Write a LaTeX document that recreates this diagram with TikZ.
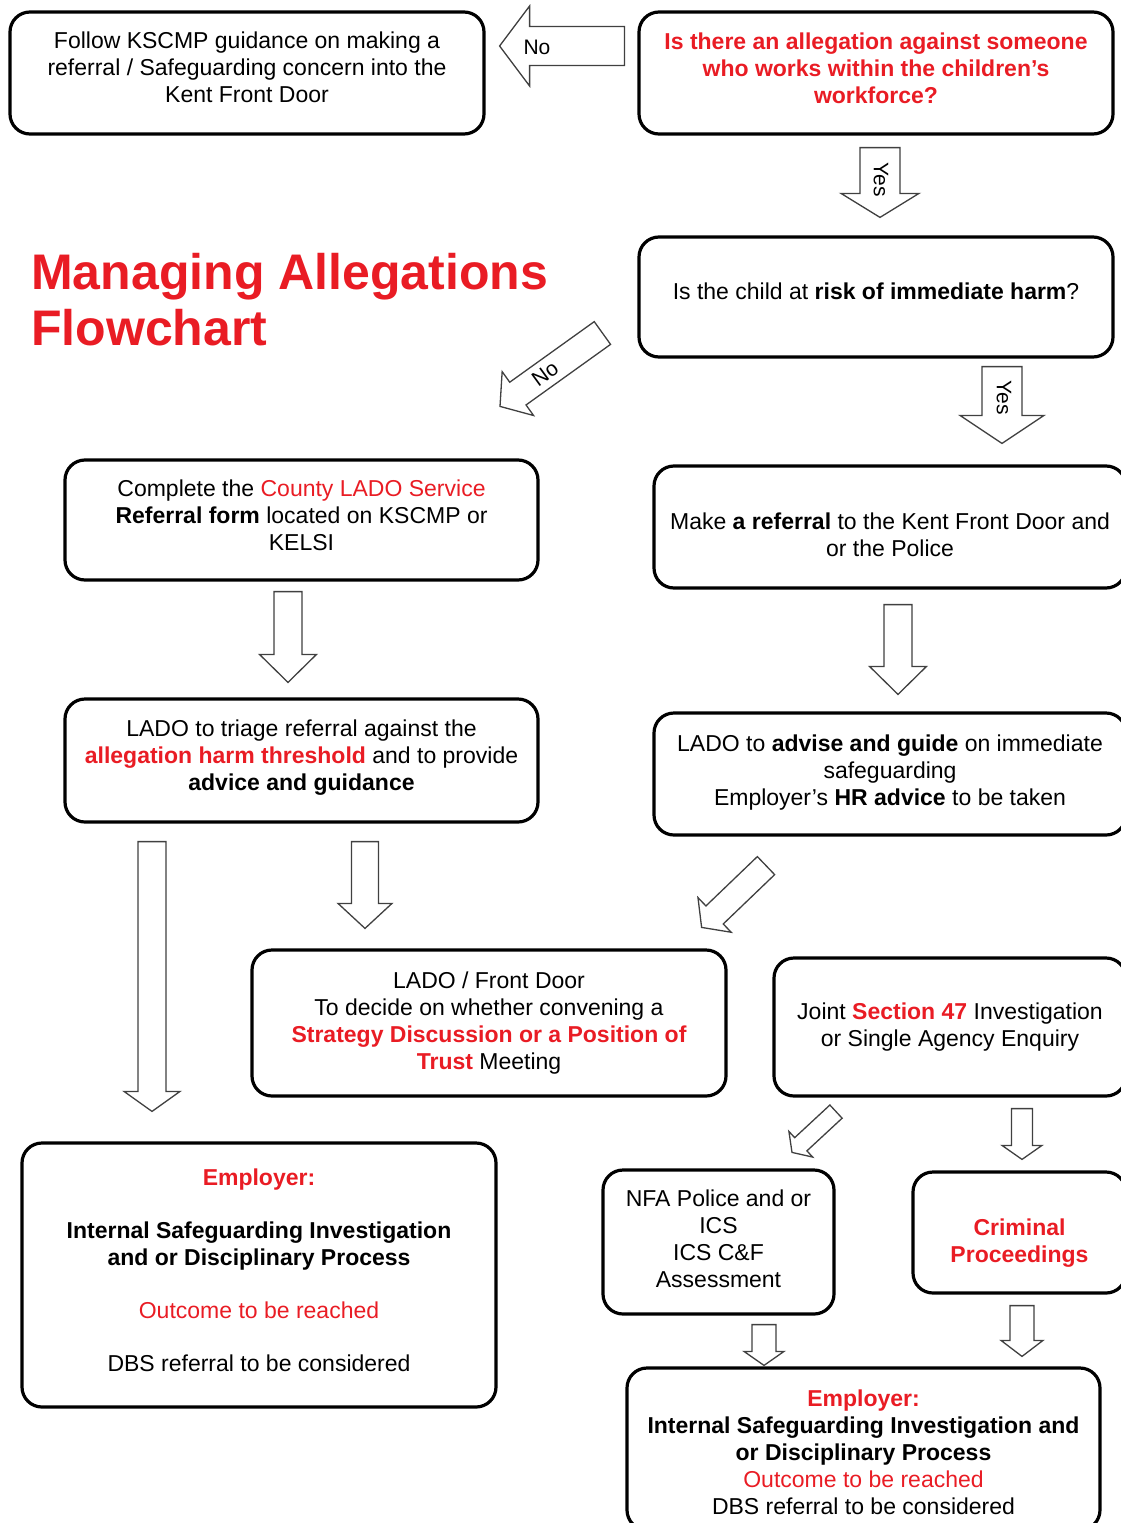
\documentclass[tikz,border=0pt]{standalone}
\usepackage{fontspec}
\setmainfont{Liberation Sans}
\usetikzlibrary{calc}
\definecolor{lred}{RGB}{233,28,36}

% 白抜き矢印: 始点, 終点, 軸の半幅, 頭の半幅, 頭の長さ
\newcommand\blockarrow[5]{%
  \coordinate (ba) at #1;
  \coordinate (bb) at #2;
  \coordinate (bh) at ($(bb)!#5!(ba)$);
  \draw[barrow] ($(ba)!#3!90:(bb)$) -- ($(bh)!#3!90:(bb)$) -- ($(bh)!#4!90:(bb)$) -- (bb)
    -- ($(bh)!#4!-90:(bb)$) -- ($(bh)!#3!-90:(bb)$) -- ($(ba)!#3!-90:(bb)$) -- cycle;
}

\begin{document}
\begin{tikzpicture}[x=1pt,y=-1pt,
    box/.style={draw,line width=3.2pt,rounded corners=20pt,align=center,inner sep=0pt,
      font=\fontsize{23}{27}\selectfont},
    barrow/.style={draw=black!75,line width=1.3pt,fill=white,line join=miter},
    lbl/.style={inner sep=0pt,font=\fontsize{21}{25}\selectfont}]
  \useasboundingbox (0,0) rectangle (1121,1523);

  % タイトル
  \node[anchor=north west,align=left,inner sep=0pt,text=lred,
    font=\fontsize{50}{56}\selectfont\bfseries] (title) at (31,253) {Managing Allegations\\Flowchart};

  % --- 箱 ---
  \node[box,minimum width=474,minimum height=122,text depth=12pt] (follow) at (247,73)
    {Follow KSCMP guidance on making a\\referral / Safeguarding concern into the\\Kent Front Door};
  \node[box,minimum width=474,minimum height=122,text depth=10pt,text=lred,font=\fontsize{23}{27}\selectfont\bfseries] (allege) at (876,73)
    {Is there an allegation against someone\\who works within the children's\\workforce?};
  \node[box,minimum width=474,minimum height=120,text depth=12pt] (risk) at (876,297)
    {Is the child at \textbf{risk of immediate harm}?};
  \node[box,minimum width=473,minimum height=120,text depth=10pt] (county) at (301.5,520)
    {Complete the \textcolor{lred}{County LADO Service}\\\textbf{Referral form} located on KSCMP or\\KELSI};
  \node[box,minimum width=472,minimum height=122,text height=59pt] (referral) at (890,527)
    {Make \textbf{a referral} to the Kent Front Door and\\or the Police};
  \node[box,minimum width=473,minimum height=123,text depth=10pt] (triage) at (301.5,760.5)
    {LADO to triage referral against the\\\textcolor{lred}{\textbf{allegation harm threshold}} and to provide\\\textbf{advice and guidance}};
  \node[box,minimum width=472,minimum height=122,text depth=8pt] (advise) at (890,774)
    {LADO to \textbf{advise and guide} on immediate\\safeguarding\\Employer's \textbf{HR advice} to be taken};
  \node[box,minimum width=474,minimum height=146] (lado) at (489,1023)
    {LADO / Front Door\\To decide on whether convening a\\\textcolor{lred}{\textbf{Strategy Discussion or a Position of}}\\\textcolor{lred}{\textbf{Trust}} Meeting};
  \node[box,minimum width=352,minimum height=138] (joint) at (950,1027)
    {Joint \textcolor{lred}{\textbf{Section 47}} Investigation\\or Single Agency Enquiry};
  \node[box,minimum width=474,minimum height=264,text depth=9pt] (empl1) at (259,1275)
    {\textcolor{lred}{\textbf{Employer:}}\\[26pt]\textbf{Internal Safeguarding Investigation}\\\textbf{and or Disciplinary Process}\\[26pt]
     \textcolor{lred}{Outcome to be reached}\\[26pt]DBS referral to be considered};
  \node[box,minimum width=231,minimum height=144,text depth=6pt] (nfa) at (718.5,1242)
    {NFA Police and or\\ICS\\ICS C\&F\\Assessment};
  \node[box,minimum width=213,minimum height=121,text height=64pt,text=lred,font=\fontsize{23}{27}\selectfont\bfseries] (crim) at (1019.5,1232.5)
    {Criminal\\Proceedings};
  \node[box,minimum width=473,minimum height=162,text height=132pt] (empl2) at (863.5,1449)
    {\textcolor{lred}{\textbf{Employer:}}\\\textbf{Internal Safeguarding Investigation and}\\\textbf{or Disciplinary Process}\\
     \textcolor{lred}{Outcome to be reached}\\DBS referral to be considered};

  % --- 矢印 ---
  \blockarrow{($(allege.west)+(-13,-27)$)}{($(follow.east)+(14,-27)$)}{19.5pt}{40pt}{30pt}
  \blockarrow{($(allege.south)+(4,12)$)}{($(risk.north)+(4,-18)$)}{20pt}{39pt}{24pt}
  \blockarrow{($(risk.west)+(-35,36)$)}{($(county.north)+(198.5,-52)$)}{14pt}{27pt}{22pt}
  \blockarrow{($(risk.south)+(126,8)$)}{($(referral.north)+(112,-21)$)}{20pt}{42pt}{28pt}
  \blockarrow{($(county.south)+(-13.5,10)$)}{($(triage.north)+(-13.5,-15)$)}{14pt}{28.5pt}{28pt}
  \blockarrow{($(referral.south)+(8,15)$)}{($(advise.north)+(8,-17)$)}{14pt}{28.5pt}{28pt}
  \blockarrow{($(triage.south)+(-149.5,18)$)}{($(empl1.north)+(-107,-30)$)}{14pt}{28pt}{20pt}
  \blockarrow{($(triage.south)+(63.5,18)$)}{($(lado.north)+(-124,-20)$)}{13.5pt}{27pt}{25pt}
  \blockarrow{($(advise.south)+(-124,29)$)}{($(lado.north east)+(-26,-21)$)}{12.5pt}{24pt}{18pt}
  \blockarrow{($(joint.south)+(-114,14)$)}{($(nfa.north)+(73.5,-16)$)}{9pt}{17.5pt}{12pt}
  \blockarrow{($(joint.south)+(72,11)$)}{($(crim.north)+(2.5,-11)$)}{10.5pt}{20pt}{14pt}
  \blockarrow{($(nfa.south)+(45.5,9)$)}{($(empl2.north)+(-99.5,-1)$)}{12pt}{20pt}{14pt}
  \blockarrow{($(crim.south)+(2.5,11)$)}{($(empl2.north)+(158.5,-10)$)}{12pt}{21pt}{16pt}

  % ラベル
  \node[lbl] (noA) at (537,47) {No};
  \node[lbl,rotate=-90] (yesA) at (881,180) {Yes};
  \node[lbl,rotate=36] (noB) at (545,374) {No};
  \node[lbl,rotate=-90] (yesB) at (1004,398) {Yes};
\end{tikzpicture}
\end{document}
